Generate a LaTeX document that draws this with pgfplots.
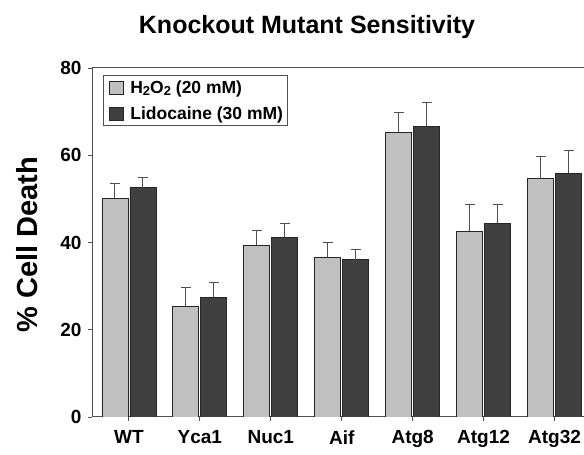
\documentclass[border=0pt]{standalone}
\usepackage{pgfplots}
\pgfplotsset{compat=1.18}
\usepackage{pgfplotstable}
\usepackage{fontspec}
\setmainfont{Liberation Sans}
\definecolor{lightbar}{RGB}{192,192,192}
\definecolor{darkbar}{RGB}{64,64,64}
\definecolor{axisgray}{RGB}{80,80,80}
\newcommand{\sub}[1]{\raisebox{-0.3ex}{\fontsize{13}{13}\selectfont #1}}
\pgfplotstableread{
x y1 e1 y2 e2
0 50.1 3.4 52.6 2.4
1 25.4 4.3 27.4 3.4
2 39.4 3.4 41.1 3.2
3 36.6 3.4 36.1 2.4
4 65.3 4.4 66.6 5.4
5 42.6 6.0 44.4 4.2
6 54.6 5.2 55.9 5.3
}\datatable
\begin{document}
\begin{tikzpicture}[x=1pt,y=1pt]
\useasboundingbox (0,0) rectangle (584,455);
\begin{axis}[
  at={(92pt,38pt)}, anchor=south west,
  scale only axis, width=498pt, height=349pt,
  ybar, bar width=26pt,
  xmin=-0.52, xmax=6.5, ymin=0, ymax=80,
  xtick=data, xticklabels={WT,Yca1,Nuc1,Aif,Atg8,Atg12,Atg32},
  ytick={0,20,40,60,80},
  xtick pos=bottom, ytick pos=left,
  tick align=outside, major tick length=4pt,
  tick style={axisgray, line width=0.9pt},
  axis line style={axisgray, line width=1pt},
  /pgf/number format/assume math mode=true,
  ticklabel style={font=\fontsize{19}{22}\selectfont\bfseries},
  yticklabel style={xshift=-3pt},
  xticklabel style={yshift=-6pt},
  legend style={at={(0.022,0.98)}, anchor=north west, draw=axisgray, line width=0.8pt,
    font=\fontsize{17.5}{20}\selectfont\bfseries, inner xsep=3pt, inner ysep=4pt,
    row sep=10pt, nodes={inner sep=1pt},
    legend cell align=left},
  legend image code/.code={\draw[#1, line width=0.6pt] (3pt,-6.5pt) rectangle (17pt,6.5pt); \path[draw=none,fill=none] (0pt,0pt) -- (23pt,0pt);},
  error bars/error bar style={line width=1pt, color=axisgray},
  error bars/error mark options={rotate=90, mark size=5pt, line width=1pt, color=axisgray},
]
\addplot[fill=lightbar, draw=black!85, line width=0.7pt,
  error bars/.cd, y dir=plus, y explicit]
  table[x=x, y=y1, y error=e1] {\datatable};
\addplot[fill=darkbar, draw=black!85, line width=0.7pt,
  error bars/.cd, y dir=plus, y explicit]
  table[x=x, y=y2, y error=e2] {\datatable};
\legend{H\sub{2}O\sub{2} (20 mM), Lidocaine (30 mM)}
\end{axis}
\node[font=\fontsize{25}{30}\selectfont\bfseries] at (307,428) {Knockout Mutant Sensitivity};
\node[font=\fontsize{29}{34}\selectfont\bfseries, rotate=90] at (27,210.5) {\% Cell Death};
\end{tikzpicture}
\end{document}
